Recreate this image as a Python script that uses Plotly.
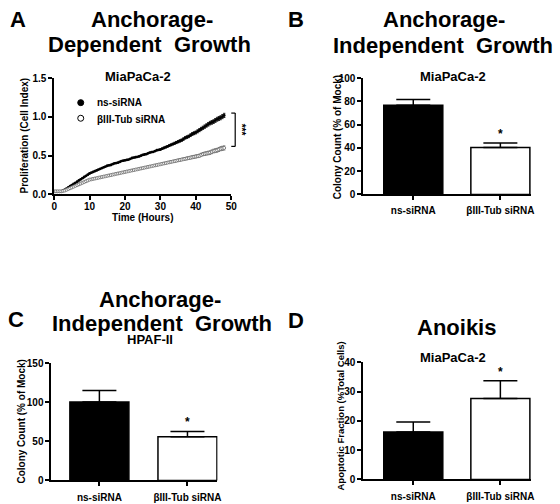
import plotly.graph_objects as go

W, H = 560, 504

# ---------------- Data ----------------
time_hours = [i * 0.5 for i in range(97)]  # 0 .. 48 h

ns_sirna = [0.04, 0.04, 0.04, 0.04, 0.04, 0.05, 0.06, 0.075, 0.09, 0.105,
            0.12, 0.135, 0.15, 0.165, 0.18, 0.195, 0.21, 0.225, 0.24, 0.255,
            0.27, 0.28, 0.29, 0.30, 0.31, 0.32, 0.33, 0.34, 0.35, 0.36,
            0.37, 0.375, 0.38, 0.39, 0.40, 0.405, 0.41, 0.42, 0.43, 0.435,
            0.44, 0.445, 0.45, 0.46, 0.47, 0.475, 0.48, 0.485, 0.49, 0.50,
            0.51, 0.515, 0.52, 0.53, 0.54, 0.545, 0.55, 0.56, 0.57, 0.575,
            0.58, 0.59, 0.60, 0.61, 0.62, 0.63, 0.64, 0.65, 0.66, 0.67,
            0.68, 0.69, 0.70, 0.715, 0.73, 0.74, 0.75, 0.765, 0.78, 0.79,
            0.80, 0.815, 0.83, 0.845, 0.86, 0.875, 0.89, 0.905, 0.92, 0.93,
            0.94, 0.955, 0.97, 0.98, 0.99, 1.005, 1.02]

btub_sirna = [0.04, 0.04, 0.04, 0.04, 0.04, 0.045, 0.05, 0.06, 0.07, 0.08,
              0.09, 0.10, 0.11, 0.12, 0.13, 0.14, 0.15, 0.16, 0.17, 0.18,
              0.19, 0.195, 0.20, 0.205, 0.21, 0.215, 0.22, 0.225, 0.23, 0.235,
              0.24, 0.245, 0.25, 0.255, 0.26, 0.265, 0.27, 0.275, 0.28, 0.285,
              0.29, 0.295, 0.30, 0.305, 0.31, 0.315, 0.32, 0.325, 0.33, 0.335,
              0.34, 0.345, 0.35, 0.355, 0.36, 0.365, 0.37, 0.375, 0.38, 0.385,
              0.39, 0.395, 0.40, 0.405, 0.41, 0.415, 0.42, 0.425, 0.43, 0.435,
              0.44, 0.445, 0.45, 0.455, 0.46, 0.465, 0.47, 0.475, 0.48, 0.485,
              0.49, 0.495, 0.50, 0.51, 0.52, 0.525, 0.53, 0.535, 0.54, 0.55,
              0.56, 0.565, 0.57, 0.58, 0.59, 0.595, 0.60]

ns_err = [0.004] * 60 + [0.008, 0.008, 0.01, 0.01, 0.01, 0.012, 0.012, 0.012, 0.014, 0.014,
                         0.014, 0.015, 0.015, 0.016, 0.016, 0.017, 0.017, 0.018, 0.018, 0.019,
                         0.019, 0.02, 0.02, 0.021, 0.021, 0.022, 0.022, 0.023, 0.023, 0.024,
                         0.024, 0.025, 0.025, 0.026, 0.026, 0.027, 0.027]
btub_err = [0.004] * 60 + [0.008, 0.008, 0.01, 0.01, 0.01, 0.012, 0.012, 0.012, 0.014, 0.014,
                           0.014, 0.015, 0.015, 0.016, 0.016, 0.017, 0.017, 0.018, 0.018, 0.019,
                           0.019, 0.02, 0.02, 0.021, 0.021, 0.022, 0.022, 0.023, 0.023, 0.024,
                           0.024, 0.025, 0.025, 0.026, 0.026, 0.027, 0.027]

groups = ["ns-siRNA", "βIII-Tub siRNA"]
b_values = [76.7, 40.3]
b_errors = [5.1, 4.0]
c_values = [100.5, 56.0]
c_errors = [14.5, 6.7]
d_values = [16.2, 27.6]
d_errors = [3.4, 6.1]

a_yticks = [0, 0.5, 1.0, 1.5]
a_xticks = [0, 10, 20, 30, 40, 50]
b_yticks = [0, 20, 40, 60, 80, 100]
c_yticks = [0, 50, 100, 150]
d_yticks = [0, 10, 20, 30, 40]

# ---------------- Helpers ----------------
FONT = "Liberation Sans, Arial, Helvetica, sans-serif"


def px(x):
    return x / W


def py(y):
    return 1 - y / H


fig = go.Figure()

# Panel A: time series
fig.add_trace(go.Scatter(
    x=time_hours, y=ns_sirna, mode="markers", xaxis="x", yaxis="y",
    marker=dict(symbol="circle", size=2.8, color="black"),
    error_y=dict(type="data", array=ns_err, color="black", thickness=0.8, width=1.2),
    showlegend=False, cliponaxis=False))
fig.add_trace(go.Scatter(
    x=time_hours, y=btub_sirna, mode="markers", xaxis="x", yaxis="y",
    marker=dict(symbol="circle", size=3.0, color="white", line=dict(color="#666", width=0.8)),
    error_y=dict(type="data", array=btub_err, color="#666", thickness=0.8, width=1.2),
    showlegend=False, cliponaxis=False))

bar_line = dict(color="black", width=1.5)


def add_bars(values, errors, xa, ya, width):
    fig.add_trace(go.Bar(
        x=[0, 1], y=values, xaxis=xa, yaxis=ya, width=width,
        marker=dict(color=["black", "white"], line=bar_line),
        error_y=dict(type="data", symmetric=False, array=errors, arrayminus=[0, 0],
                     color="black", thickness=1.5, width=17),
        showlegend=False))


add_bars(b_values, b_errors, "x2", "y2", 0.678)
add_bars(c_values, c_errors, "x3", "y3", 0.67)
add_bars(d_values, d_errors, "x4", "y4", 0.678)

tickfont = dict(family=FONT, size=10, color="black", weight="bold")
axis_common = dict(showgrid=False, zeroline=False, showline=True, linecolor="black",
                   linewidth=1.5, ticks="outside", ticklen=4, tickwidth=1.5,
                   tickcolor="black", tickfont=tickfont)

dom_A = dict(x=[px(52), px(232)], y=[py(193), py(74)])
dom_B = dict(x=[px(366), px(537)], y=[py(193), py(74)])
dom_C = dict(x=[px(49), px(218)], y=[py(486), py(366)])
dom_D = dict(x=[px(366), px(537)], y=[py(485), py(365)])

fig.update_layout(
    width=W, height=H, margin=dict(l=0, r=0, t=0, b=0),
    paper_bgcolor="white", plot_bgcolor="white",
    font=dict(family=FONT, color="black"),
    xaxis=dict(domain=dom_A["x"], anchor="y", range=[0, 50], tickvals=a_xticks,
               ticklabelstandoff=-2, **axis_common),
    yaxis=dict(domain=dom_A["y"], anchor="x", range=[0, 1.5], tickvals=a_yticks,
               tickformat=".1f", **axis_common),
    xaxis2=dict(domain=dom_B["x"], anchor="y2", range=[-0.576, 1.356], tickvals=[0, 1],
                ticktext=groups, ticklabelstandoff=2, **axis_common),
    yaxis2=dict(domain=dom_B["y"], anchor="x2", range=[0, 100], tickvals=b_yticks, **axis_common),
    xaxis3=dict(domain=dom_C["x"], anchor="y3", range=[-0.547, 1.341], tickvals=[0, 1],
                ticktext=groups, ticklabelstandoff=3, **axis_common),
    yaxis3=dict(domain=dom_C["y"], anchor="x3", range=[0, 150], tickvals=c_yticks, **axis_common),
    xaxis4=dict(domain=dom_D["x"], anchor="y4", range=[-0.576, 1.356], tickvals=[0, 1],
                ticktext=groups, ticklabelstandoff=3, **axis_common),
    yaxis4=dict(domain=dom_D["y"], anchor="x4", range=[0, 40], tickvals=d_yticks, **axis_common),
)

annotations = []


def txt(x, y, text, size, angle=0, xanchor="center"):
    annotations.append(dict(x=px(x), y=py(y), xref="paper", yref="paper", text=text,
                            showarrow=False, xanchor=xanchor, yanchor="middle",
                            textangle=angle,
                            font=dict(family=FONT, size=size, color="black", weight="bold")))


# Panel letters and titles
txt(5, 14, "A", 22, xanchor="left")
txt(151, 14, "Anchorage-", 22)
txt(149, 39, "Dependent\u00a0 Growth", 22)
txt(288, 14, "B", 22, xanchor="left")
txt(448, 14, "Anchorage-", 22)
txt(447, 40, "Independent\u00a0 Growth", 22)
txt(3, 321, "C", 22, xanchor="left")
txt(160, 301, "Anchorage-", 22)
txt(162, 325, "Independent\u00a0 Growth", 22)
txt(288, 322, "D", 22, xanchor="left")
txt(461, 329, "Anoikis", 22)

# Subtitles
txt(137, 72, "MiaPaCa-2", 13)
txt(457, 72, "MiaPaCa-2", 13)
txt(149, 342, "HPAF-II", 13)
txt(457, 360, "MiaPaCa-2", 13)

# Axis titles
txt(22, 133, "Proliferation (Cell Index)", 10, angle=-90)
txt(142, 217, "Time (Hours)", 10)
txt(340, 135, "Colony Count (% of Mock)", 10, angle=-90)
txt(19, 426, "Colony Count (% of Mock)", 10, angle=-90)
txt(342, 420, "Apoptotic Fraction (%Total Cells)", 9.5, angle=-90)

# Legend text (panel A)
txt(93, 99, "ns-siRNA", 10, xanchor="left")
txt(93, 116, "βIII-Tub siRNA", 10, xanchor="left")

# Significance stars on bars
for xa, ya, vals, errs in [("x2", "y2", b_values, b_errors),
                           ("x3", "y3", c_values, c_errors),
                           ("x4", "y4", d_values, d_errors)]:
    annotations.append(dict(x=1, y=vals[1] + errs[1], xref=xa, yref=ya, text="*",
                            showarrow=False, yanchor="bottom", yshift=0,
                            font=dict(family=FONT, size=12, color="black", weight="bold")))

# *** for panel A
y_top = 1.05
y_bot = 0.62


def a_ypx(v):
    return 193 - v * 119 / 1.5


txt(242, (a_ypx(y_top) + a_ypx(y_bot)) / 2, "***", 10, angle=90)

fig.update_layout(annotations=annotations)

# Bracket in panel A
shapes = []
bx = 236
shapes.append(dict(type="line", xref="paper", yref="paper", x0=px(bx), x1=px(bx),
                   y0=py(a_ypx(y_top)), y1=py(a_ypx(y_bot)), line=dict(color="black", width=1.2)))
for v in (y_top, y_bot):
    shapes.append(dict(type="line", xref="paper", yref="paper", x0=px(bx - 4), x1=px(bx),
                       y0=py(a_ypx(v)), y1=py(a_ypx(v)), line=dict(color="black", width=1.2)))

# Legend markers
shapes.append(dict(type="circle", xref="paper", yref="paper", xsizemode="pixel", ysizemode="pixel",
                   xanchor=px(79), yanchor=py(99), x0=-3, x1=3, y0=-3, y1=3,
                   fillcolor="black", line=dict(color="black", width=1)))
shapes.append(dict(type="circle", xref="paper", yref="paper", xsizemode="pixel", ysizemode="pixel",
                   xanchor=px(79), yanchor=py(115), x0=-3, x1=3, y0=-3, y1=3,
                   fillcolor="white", line=dict(color="black", width=1)))

fig.update_layout(shapes=shapes)

fig.write_html("out.html", config={"displayModeBar": False},
               post_script="document.body.style.margin='0';document.body.style.overflow='hidden';")
